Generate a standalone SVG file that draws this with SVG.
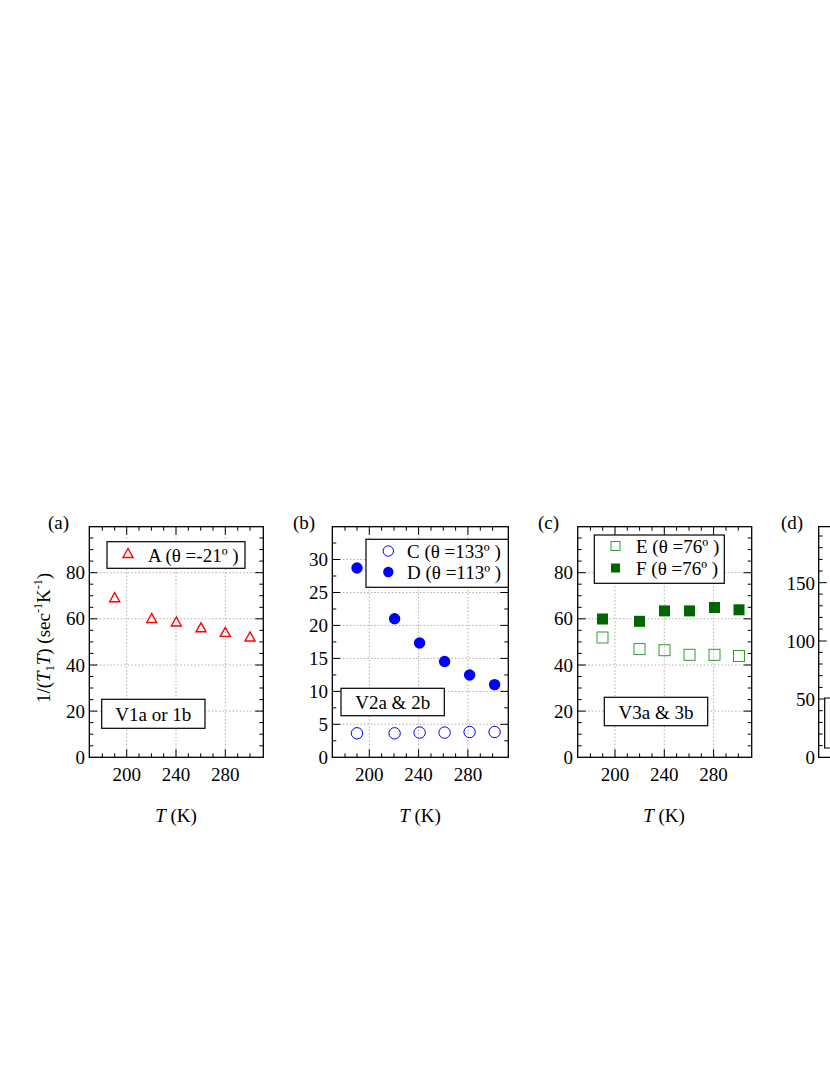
<svg xmlns="http://www.w3.org/2000/svg" width="830" height="1075" viewBox="0 0 830 1075">
<style>
text{font-family:"Liberation Serif","Times New Roman",serif;font-size:19px;fill:#000}
.fr{fill:none;stroke:#000;stroke-width:1.3}
.g{stroke:#999;stroke-width:0.8;stroke-dasharray:1.5,2}
.t{stroke:#000;stroke-width:1}
.bx{fill:#fff;stroke:#000;stroke-width:1.2}
.xl{text-anchor:middle}
.yl{text-anchor:end}
</style>
<rect width="830" height="1075" fill="#fff"/>
<!-- panel a -->
<g id="panel-a">
<text x="48" y="529">(a)</text>
<g class="g"><path d="M126.7 526.7V757.3M176 526.7V757.3M225.3 526.7V757.3M89.3 711.1H263.3M89.3 665H263.3M89.3 618.8H263.3M89.3 572.7H263.3"/></g>
<g class="t"><path d="M126.7 757.3v-8M176 757.3v-8M225.3 757.3v-8M126.7 526.7v8M176 526.7v8M225.3 526.7v8M102.3 757.3v-4M114.7 757.3v-4M139 757.3v-4M151.4 757.3v-4M163.7 757.3v-4M188.3 757.3v-4M200.7 757.3v-4M213 757.3v-4M237.7 757.3v-4M250 757.3v-4M102.3 526.7v4M114.7 526.7v4M139 526.7v4M151.4 526.7v4M163.7 526.7v4M188.3 526.7v4M200.7 526.7v4M213 526.7v4M237.7 526.7v4M250 526.7v4"/>
<path d="M89.3 711.1h8M89.3 665h8M89.3 618.8h8M89.3 572.7h8M263.3 711.1h-8M263.3 665h-8M263.3 618.8h-8M263.3 572.7h-8M89.3 745.8h4M89.3 734.2h4M89.3 722.6h4M89.3 699.6h4M89.3 688h4M89.3 676.5h4M89.3 653.4h4M89.3 641.9h4M89.3 630.3h4M89.3 607.3h4M89.3 595.7h4M89.3 584.2h4M89.3 561.1h4M89.3 549.6h4M89.3 538h4M263.3 745.8h-4M263.3 734.2h-4M263.3 722.6h-4M263.3 699.6h-4M263.3 688h-4M263.3 676.5h-4M263.3 653.4h-4M263.3 641.9h-4M263.3 630.3h-4M263.3 607.3h-4M263.3 595.7h-4M263.3 584.2h-4M263.3 561.1h-4M263.3 549.6h-4M263.3 538h-4"/></g>
<rect class="fr" x="89.3" y="526.7" width="174" height="230.6"/>
<g class="yl"><text x="85" y="764">0</text><text x="85" y="718">20</text><text x="85" y="672">40</text><text x="85" y="625">60</text><text x="85" y="579">80</text></g>
<g class="xl"><text x="126.7" y="781">200</text><text x="176" y="781">240</text><text x="225.3" y="781">280</text></g>
<text x="176" y="822" class="xl"><tspan font-style="italic">T</tspan> (K)</text>
<text transform="translate(50,638) rotate(-90)" class="xl">1/(<tspan font-style="italic">T</tspan><tspan font-size="12" dy="4">1</tspan><tspan font-style="italic" dy="-4">T</tspan>)  (sec<tspan font-size="12" dy="-8">-1</tspan><tspan dy="8">K</tspan><tspan font-size="12" dy="-8">-1</tspan><tspan dy="8">)</tspan></text>
<g fill="none" stroke="#f00" stroke-width="1.4">
<path d="M114.7 592.7l-5 9h10z"/><path d="M151.7 613.5l-5 9h10z"/><path d="M176.3 617l-5 9h10z"/><path d="M201 622.8l-5 9h10z"/><path d="M225.3 627.4l-5 9h10z"/><path d="M250 632l-5 9h10z"/>
</g>
<rect class="bx" x="107" y="541.7" width="138" height="26.6"/>
<path d="M128 548.5l-5 9h10z" fill="none" stroke="#f00" stroke-width="1.4"/>
<text x="148" y="562">A (θ =-21º )</text>
<rect class="bx" x="101.7" y="699.3" width="103.3" height="29"/>
<text x="153.3" y="721" class="xl">V1a or 1b</text>
</g>
<!-- panel b -->
<g id="panel-b">
<text x="293" y="529">(b)</text>
<g class="g"><path d="M369.3 526.7V757.3M418.6 526.7V757.3M467.9 526.7V757.3M332.3 724.3H508.3M332.3 691.4H508.3M332.3 658.4H508.3M332.3 625.4H508.3M332.3 592.5H508.3M332.3 559.5H508.3"/></g>
<g class="t"><path d="M369.3 757.3v-8M418.6 757.3v-8M467.9 757.3v-8M369.3 526.7v8M418.6 526.7v8M467.9 526.7v8M345 757.3v-4M357 757.3v-4M381.6 757.3v-4M394 757.3v-4M406.3 757.3v-4M431 757.3v-4M443.3 757.3v-4M455.6 757.3v-4M480.3 757.3v-4M492.6 757.3v-4M345 526.7v4M357 526.7v4M381.6 526.7v4M394 526.7v4M406.3 526.7v4M431 526.7v4M443.3 526.7v4M455.6 526.7v4M480.3 526.7v4M492.6 526.7v4"/>
<path d="M332.3 724.3h8M332.3 691.4h8M332.3 658.4h8M332.3 625.4h8M332.3 592.5h8M332.3 559.5h8M508.3 724.3h-8M508.3 691.4h-8M508.3 658.4h-8M508.3 625.4h-8M508.3 592.5h-8M508.3 559.5h-8M332.3 740.8h4M332.3 707.8h4M332.3 674.9h4M332.3 641.9h4M332.3 609h4M332.3 576h4M332.3 543h4M508.3 740.8h-4M508.3 707.8h-4M508.3 674.9h-4M508.3 641.9h-4M508.3 609h-4M508.3 576h-4M508.3 543h-4"/></g>
<rect class="fr" x="332.3" y="526.7" width="176" height="230.6"/>
<g class="yl"><text x="328" y="764">0</text><text x="328" y="731">5</text><text x="328" y="698">10</text><text x="328" y="665">15</text><text x="328" y="632">20</text><text x="328" y="599">25</text><text x="328" y="566">30</text></g>
<g class="xl"><text x="369.3" y="781">200</text><text x="418.6" y="781">240</text><text x="467.9" y="781">280</text></g>
<text x="420" y="822" class="xl"><tspan font-style="italic">T</tspan> (K)</text>
<g fill="#00f"><circle cx="357" cy="568" r="5.7"/><circle cx="394.6" cy="618.8" r="5.7"/><circle cx="419.6" cy="643" r="5.7"/><circle cx="444.6" cy="661.5" r="5.7"/><circle cx="469.6" cy="675" r="5.7"/><circle cx="494.6" cy="684.6" r="5.7"/></g>
<g fill="none" stroke="#00f" stroke-width="1"><circle cx="357" cy="733.3" r="5.7"/><circle cx="394.6" cy="733.3" r="5.7"/><circle cx="419.6" cy="732.6" r="5.7"/><circle cx="444.6" cy="732.6" r="5.7"/><circle cx="469.6" cy="732" r="5.7"/><circle cx="494.6" cy="732" r="5.7"/></g>
<rect class="bx" x="366" y="539.3" width="142.3" height="48"/>
<circle cx="388.3" cy="551" r="5.2" fill="none" stroke="#00f"/>
<circle cx="388.3" cy="572" r="5.2" fill="#00f"/>
<text x="407" y="558">C (θ =133º )</text>
<text x="407" y="579">D (θ =113º )</text>
<rect class="bx" x="341" y="688.3" width="103.3" height="27.4"/>
<text x="392.7" y="709" class="xl">V2a &amp; 2b</text>
</g>
<!-- panel c -->
<g id="panel-c">
<text x="538" y="529">(c)</text>
<g class="g"><path d="M615 526.7V757.3M664.3 526.7V757.3M713.6 526.7V757.3M577.7 711.1H751.7M577.7 665H751.7M577.7 618.8H751.7M577.7 572.7H751.7"/></g>
<g class="t"><path d="M615 757.3v-8M664.3 757.3v-8M713.6 757.3v-8M615 526.7v8M664.3 526.7v8M713.6 526.7v8M590.4 757.3v-4M602.7 757.3v-4M627.3 757.3v-4M639.6 757.3v-4M652 757.3v-4M676.6 757.3v-4M689 757.3v-4M701.3 757.3v-4M726 757.3v-4M738.3 757.3v-4M590.4 526.7v4M602.7 526.7v4M627.3 526.7v4M639.6 526.7v4M652 526.7v4M676.6 526.7v4M689 526.7v4M701.3 526.7v4M726 526.7v4M738.3 526.7v4"/>
<path d="M577.7 711.1h8M577.7 665h8M577.7 618.8h8M577.7 572.7h8M751.7 711.1h-8M751.7 665h-8M751.7 618.8h-8M751.7 572.7h-8M577.7 745.8h4M577.7 734.2h4M577.7 722.6h4M577.7 699.6h4M577.7 688h4M577.7 676.5h4M577.7 653.4h4M577.7 641.9h4M577.7 630.3h4M577.7 607.3h4M577.7 595.7h4M577.7 584.2h4M577.7 561.1h4M577.7 549.6h4M577.7 538h4M751.7 745.8h-4M751.7 734.2h-4M751.7 722.6h-4M751.7 699.6h-4M751.7 688h-4M751.7 676.5h-4M751.7 653.4h-4M751.7 641.9h-4M751.7 630.3h-4M751.7 607.3h-4M751.7 595.7h-4M751.7 584.2h-4M751.7 561.1h-4M751.7 549.6h-4M751.7 538h-4"/></g>
<rect class="fr" x="577.7" y="526.7" width="174" height="230.6"/>
<g class="yl"><text x="573" y="764">0</text><text x="573" y="718">20</text><text x="573" y="672">40</text><text x="573" y="625">60</text><text x="573" y="579">80</text></g>
<g class="xl"><text x="615" y="781">200</text><text x="664.3" y="781">240</text><text x="713.6" y="781">280</text></g>
<text x="664" y="822" class="xl"><tspan font-style="italic">T</tspan> (K)</text>
<g fill="#060"><rect x="597" y="613.5" width="11" height="11"/><rect x="634" y="615.8" width="11" height="11"/><rect x="659" y="605.4" width="11" height="11"/><rect x="684" y="605.4" width="11" height="11"/><rect x="709" y="602" width="11" height="11"/><rect x="733.5" y="604.3" width="11" height="11"/></g>
<g fill="none" stroke="#393" stroke-width="1"><rect x="597" y="632" width="11" height="11"/><rect x="634" y="643.6" width="11" height="11"/><rect x="659" y="644.7" width="11" height="11"/><rect x="684" y="649.3" width="11" height="11"/><rect x="709" y="649.3" width="11" height="11"/><rect x="733.5" y="650.5" width="11" height="11"/></g>
<rect class="bx" x="594.3" y="535" width="130" height="48.3"/>
<rect x="611" y="541.5" width="9" height="9" fill="none" stroke="#393"/>
<rect x="611" y="563.5" width="9" height="9" fill="#060"/>
<text x="636" y="553">E (θ =76º )</text>
<text x="636" y="575">F (θ =76º )</text>
<rect class="bx" x="604.3" y="697.3" width="103.4" height="28.4"/>
<text x="656" y="718.5" class="xl">V3a &amp; 3b</text>
</g>
<!-- panel d -->
<g id="panel-d">
<text x="781" y="529">(d)</text>
<g class="t"><path d="M818.7 699h8M818.7 641h8M818.7 582.7h8M818.7 745.6h4M818.7 734h4M818.7 722.4h4M818.7 710.7h4M818.7 687.4h4M818.7 675.7h4M818.7 664h4M818.7 652.4h4M818.7 629.1h4M818.7 617.4h4M818.7 605.8h4M818.7 594.1h4M818.7 571h4M818.7 559.4h4M818.7 547.7h4M818.7 536h4"/></g>
<path class="fr" d="M830 526.7H818.7V757.3H830"/>
<g class="yl"><text x="815" y="764">0</text><text x="815" y="706">50</text><text x="815" y="648">100</text><text x="815" y="590">150</text></g>
<path class="bx" d="M831 698H824.7V748H831"/>
</g>
</svg>
